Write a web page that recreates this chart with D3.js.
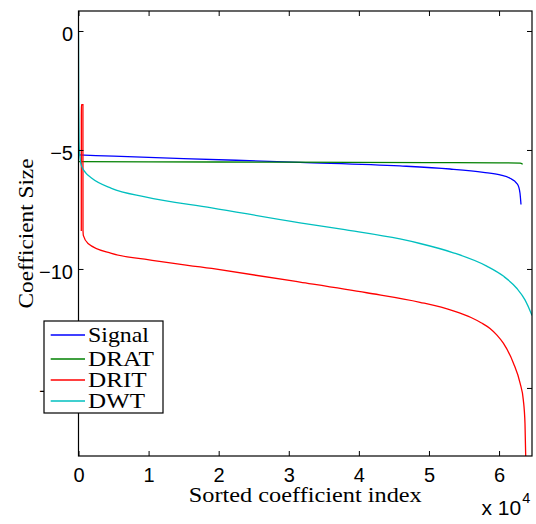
<!DOCTYPE html>
<html>
<head>
<meta charset="utf-8">
<script src="https://cdn.jsdelivr.net/npm/d3@7"></script>
<style>
  body { margin: 0; background: #fff; }
  svg { display: block; }
  .tick text { font-family: "Liberation Sans", Arial, sans-serif; font-size: 20px; fill: #000; }
  .serif { font-family: "Liberation Serif", "Times New Roman", serif; font-size: 22px; fill: #000; }
</style>
</head>
<body>
<div id="chart"></div>
<script>
// Series values (index, log coefficient size)
const signalIdx = [0, 5000, 15000, 31600, 45860, 53000, 57760, 60140, 61560, 62520, 62800, 62990, 63130];
const signalVal = [-5.21, -5.26, -5.36, -5.52, -5.67, -5.80, -5.94, -6.05, -6.19, -6.40, -6.55, -6.82, -7.29];

const dratIdx = [0, 10000, 30000, 50000, 60000, 63000, 63370];
const dratVal = [-5.49, -5.50, -5.51, -5.53, -5.54, -5.55, -5.60];

const dritIdx = [400, 410, 630, 642, 700, 1360, 4700, 9450, 19000, 31600, 41120, 48720, 53480, 56000, 57500, 58710, 59700, 60610, 62040, 63000, 63460, 63700, 63850];
const dritVal = [-8.4, -3.1, -3.1, -8.37, -8.6, -8.93, -9.35, -9.59, -9.98, -10.55, -11.0, -11.4, -11.76, -12.04, -12.27, -12.5, -12.78, -13.12, -13.95, -14.8, -15.5, -16.5, -18.5];

const dwtIdx = [0, 30, 80, 150, 400, 1000, 1900, 4700, 9500, 19000, 31600, 38000, 45860, 48720, 53480, 58240, 60610, 62520, 63700, 64660, 64700];
const dwtVal = [0, -3.0, -4.6, -5.1, -5.65, -5.95, -6.19, -6.61, -6.97, -7.43, -8.06, -8.35, -8.74, -8.93, -9.32, -9.88, -10.3, -10.81, -11.3, -11.93, -11.96];

const seriesNames = ["Signal", "DRAT", "DRIT", "DWT"];
const seriesColors = ["#0000ff", "#008000", "#ff0000", "#00bfbf"];

const xTicks = [0, 10000, 20000, 30000, 40000, 50000, 60000];
const xTickLabels = ["0", "1", "2", "3", "4", "5", "6"];
const yTicks = [0, -5, -10, -15];
const yTickLabels = ["0", "\u22125", "\u221210", "\u221215"];

// Layout
const WIDTH = 536;
const HEIGHT = 524;
const LEFT = 78.5, RIGHT = 532, TOP = 11, BOTTOM = 456;

const svg = d3.select("#chart")
  .append("svg")
  .attr("width", WIDTH)
  .attr("height", HEIGHT);

const x = d3.scaleLinear().domain([0, 64700]).range([LEFT, RIGHT]);
const y = d3.scaleLinear().domain([-17.86, 0.84]).range([BOTTOM, TOP]);

svg.append("clipPath").attr("id", "plot-clip")
  .append("rect")
  .attr("x", LEFT).attr("y", TOP)
  .attr("width", RIGHT - LEFT).attr("height", BOTTOM - TOP);

// Lines
const series = [
  { idx: signalIdx, val: signalVal },
  { idx: dratIdx, val: dratVal },
  { idx: dritIdx, val: dritVal },
  { idx: dwtIdx, val: dwtVal }
];

const line = d3.line()
  .x((d) => x(d[0]))
  .y((d) => y(d[1]))
  .curve(d3.curveMonotoneX);

const lines = svg.append("g").attr("clip-path", "url(#plot-clip)");
series.forEach((s, i) => {
  lines.append("path")
    .attr("d", line(d3.zip(s.idx, s.val)))
    .attr("fill", "none")
    .attr("stroke", seriesColors[i])
    .attr("stroke-width", 1.3);
});

// Axes (inward ticks on all four sides)
svg.append("g")
  .attr("transform", `translate(0,${BOTTOM})`)
  .call(d3.axisBottom(x).tickValues(xTicks).tickSize(-5).tickPadding(12)
    .tickFormat((d, i) => xTickLabels[i]));

svg.append("g")
  .attr("transform", `translate(0,${TOP})`)
  .call(d3.axisTop(x).tickValues(xTicks).tickSize(-5).tickFormat(""));

const yAxis = svg.append("g")
  .attr("transform", `translate(${LEFT},0)`)
  .call(d3.axisLeft(y).tickValues(yTicks).tickSize(-5).tickPadding(5.5)
    .tickFormat((d, i) => yTickLabels[i]));
yAxis.selectAll("text").attr("dy", "0.48em");

svg.append("g")
  .attr("transform", `translate(${RIGHT},0)`)
  .call(d3.axisRight(y).tickValues(yTicks).tickSize(-5).tickFormat(""));

svg.selectAll(".domain").remove();
svg.selectAll(".tick line").attr("stroke", "#000").attr("stroke-width", 1);

svg.append("rect")
  .attr("x", LEFT).attr("y", TOP)
  .attr("width", RIGHT - LEFT).attr("height", BOTTOM - TOP)
  .attr("fill", "none")
  .attr("stroke", "#000")
  .attr("stroke-width", 1.2);

// Axis labels
svg.append("text")
  .attr("class", "serif")
  .attr("x", (LEFT + RIGHT) / 2)
  .attr("y", 501.5)
  .attr("text-anchor", "middle")
  .attr("textLength", 233)
  .attr("lengthAdjust", "spacingAndGlyphs")
  .text("Sorted coefficient index");

svg.append("text")
  .attr("class", "serif")
  .attr("transform", `translate(32.5,${(TOP + BOTTOM) / 2}) rotate(-90)`)
  .attr("text-anchor", "middle")
  .attr("textLength", 150)
  .attr("lengthAdjust", "spacingAndGlyphs")
  .text("Coefficient Size");

// Exponent
const expo = svg.append("text")
  .attr("x", 481.5)
  .attr("y", 515)
  .style("font-family", "Liberation Sans, Arial, sans-serif")
  .style("font-size", "21px");
expo.append("tspan").text("x 10");
expo.append("tspan").attr("dy", -12).attr("dx", 1).style("font-size", "14.5px").text("4");

// Legend
const rowY = [335, 359, 380, 401];
const legend = svg.append("g");
legend.append("rect")
  .attr("x", 44).attr("y", 321)
  .attr("width", 119).attr("height", 92)
  .attr("fill", "#fff")
  .attr("stroke", "#000")
  .attr("stroke-width", 1.2);

const legendWidths = [61, 66, 58.7, 57];
const items = legend.selectAll("g.item")
  .data(seriesNames)
  .enter()
  .append("g")
  .attr("class", "item")
  .attr("transform", (d, i) => `translate(0,${rowY[i]})`);

items.append("line")
  .attr("x1", 50.7).attr("x2", 85)
  .attr("stroke", (d, i) => seriesColors[i])
  .attr("stroke-width", 1.3);

items.append("text")
  .attr("class", "serif")
  .attr("x", 88)
  .attr("y", 7)
  .attr("textLength", (d, i) => legendWidths[i])
  .attr("lengthAdjust", "spacingAndGlyphs")
  .text((d) => d);
</script>
</body>
</html>
